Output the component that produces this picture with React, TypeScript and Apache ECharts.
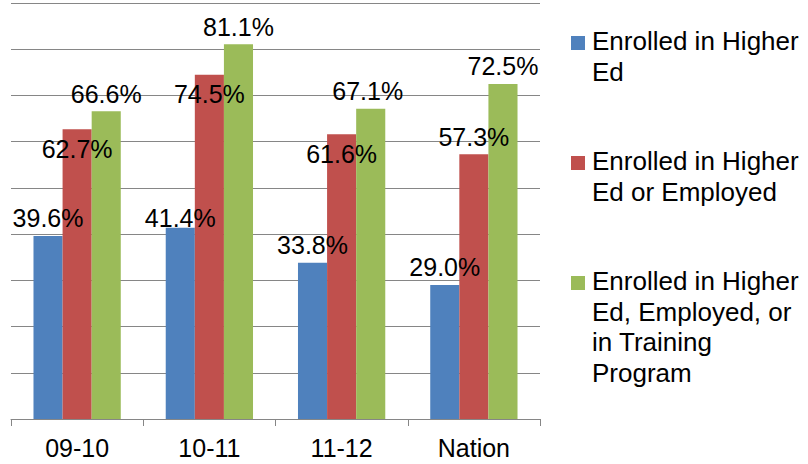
import React, { useEffect, useRef } from "react";
import * as echarts from "echarts";

const categories = ["09-10", "10-11", "11-12", "Nation"];
const seriesNames = [
  "Enrolled in Higher\nEd",
  "Enrolled in Higher\nEd or Employed",
  "Enrolled in Higher\nEd, Employed, or\nin Training\nProgram",
];
const higherEd = [39.6, 41.4, 33.8, 29.0];
const higherEdOrEmployed = [62.7, 74.5, 61.6, 57.3];
const higherEdEmployedTraining = [66.6, 81.1, 67.1, 72.5];
const seriesValues = [higherEd, higherEdOrEmployed, higherEdEmployedTraining];
const colors = ["#4F81BD", "#C0504D", "#9BBB59"];
const yTicks = { min: 0, max: 90, interval: 10 };

// label placement tweaks (style only)
const labelInside = [
  [false, false, false, false],
  [true, true, true, false],
  [false, false, false, false],
];
const labelOffsets = [
  [[0, 0], [0, 8], [0, 0], [0, 0]],
  [[0, 0], [0, 0], [0, 0], [0, 0]],
  [[0, 0], [0, 0], [-3, 0], [0, 0]],
];

const FONT = "'Liberation Sans', Arial, sans-serif";

export default function App() {
  const ref = useRef<HTMLDivElement>(null);
  useEffect(() => {
    if (!ref.current) return;
    const chart = echarts.init(ref.current, undefined, { renderer: "svg" });

    const series = seriesValues.map((vals, si) => ({
      name: seriesNames[si],
      type: "bar",
      barGap: "0%",
      barCategoryGap: "34%",
      itemStyle: { color: colors[si] },
      data: vals.map((v, i) => ({
        value: v,
        label: {
          show: true,
          position: labelInside[si][i] ? "insideTop" : "top",
          distance: labelInside[si][i] ? 7 : 5,
          offset: labelOffsets[si][i],
          formatter: (p: any) => p.value.toFixed(1) + "%",
          color: "#000",
          fontSize: 25,
          fontFamily: FONT,
        },
      })),
    }));

    const legendTops = [26, 146, 266];
    const graphic: any[] = [];
    seriesNames.forEach((name, i) => {
      graphic.push({
        type: "rect",
        left: 571,
        top: legendTops[i] + 10,
        shape: { width: 14, height: 14 },
        style: { fill: colors[i] },
      });
      graphic.push({
        type: "text",
        left: 592,
        top: legendTops[i],
        style: {
          text: name,
          fill: "#000",
          fontSize: 26,
          lineHeight: 30.5,
          fontFamily: FONT,
        },
      });
    });

    chart.setOption({
      animation: false,
      grid: { left: 11, top: 3, width: 529, height: 416 },
      xAxis: {
        type: "category",
        data: categories,
        axisLine: { lineStyle: { color: "#868686", width: 1 } },
        axisTick: { show: true, length: 7, lineStyle: { color: "#868686" } },
        axisLabel: { color: "#000", fontSize: 25, fontFamily: FONT, margin: 16 },
      },
      yAxis: {
        type: "value",
        min: yTicks.min,
        max: yTicks.max,
        interval: yTicks.interval,
        axisLabel: { show: false },
        axisLine: { show: false },
        axisTick: { show: false },
        splitLine: { lineStyle: { color: "#868686", width: 1 } },
      },
      series,
      graphic,
    });
    return () => chart.dispose();
  }, []);
  return (
    <div
      ref={ref}
      style={{ position: "absolute", left: 0, top: 0, width: 808, height: 464, background: "#fff" }}
    />
  );
}
